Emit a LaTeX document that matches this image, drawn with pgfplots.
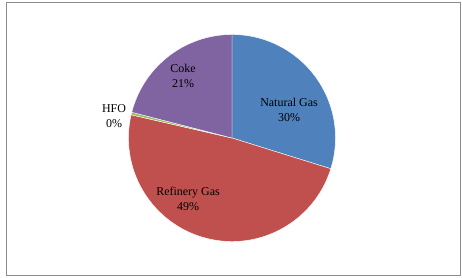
\documentclass[border=0pt]{standalone}
\usepackage{pgfplots}
\pgfplotsset{compat=1.18}
\usepackage{pgfplotstable}
\usepackage{fontspec}
\setmainfont{Liberation Serif}
\definecolor{pie0}{HTML}{4F81BD}
\definecolor{pie1}{HTML}{C0504D}
\definecolor{pie2}{HTML}{9BBB59}
\definecolor{pie3}{HTML}{8064A2}
\pgfplotstableread{
label value
NaturalGas 29.8
RefineryGas 48.8
HFO 0.4
Coke 21.0
}\piedata
\begin{document}
\begin{tikzpicture}
\begin{axis}[
  scale only axis, width=454bp, height=273bp,
  xmin=6, xmax=460, ymin=3, ymax=276,
  axis lines=box, xtick=\empty, ytick=\empty,
  axis line style={color=black!45, line width=0.8pt},
  clip=false,
]
\path (axis cs:0,0) rectangle (axis cs:462,278);
\def\acc{90}
\pgfplotsforeachungrouped \i in {0,...,3}{%
  \pgfplotstablegetelem{\i}{value}\of\piedata
  \pgfmathsetmacro\endang{\acc - 3.6*\pgfplotsretval}%
  \edef\temp{\noexpand\fill[pie\i, draw=white, line width=0.4pt, line join=round]
    (axis cs:232,140) -- ++(\acc:103.5bp) arc[start angle=\acc, end angle=\endang, radius=103.5bp] -- cycle;}%
  \temp
  \global\let\acc\endang
}
\begin{scope}[every node/.style={align=center, font=\fontsize{12}{15}\selectfont, inner sep=0pt}]
\node at (axis cs:289,168.5) {Natural Gas\\30\%};
\node at (axis cs:188,79) {Refinery Gas\\49\%};
\node at (axis cs:114,161.5) {HFO\\0\%};
\node at (axis cs:183,202) {Coke\\21\%};
\end{scope}
\end{axis}
\end{tikzpicture}
\end{document}
